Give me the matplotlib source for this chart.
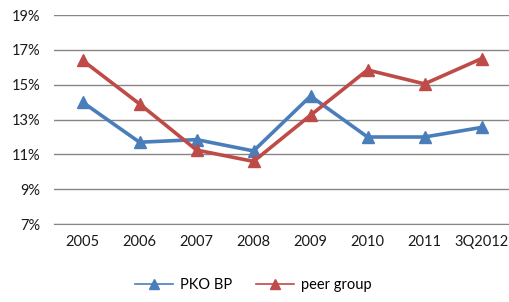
import matplotlib.pyplot as plt
from matplotlib.ticker import FuncFormatter

plt.rcParams['font.family'] = ['Lato', 'DejaVu Sans']

years = ['2005', '2006', '2007', '2008', '2009', '2010', '2011', '3Q2012']
pko_bp = [14.0, 11.7, 11.85, 11.2, 14.35, 12.0, 12.0, 12.55]
peer_group = [16.4, 13.9, 11.25, 10.6, 13.25, 15.85, 15.05, 16.5]

fig = plt.figure(figsize=(5.1, 3.02), dpi=100)
ax = fig.add_axes([0.106, 0.258, 0.894, 0.692])

x = range(len(years))
ax.plot(x, pko_bp, color='#4A7EBB', lw=2.6, marker='^', ms=9, label='PKO BP', zorder=3)
ax.plot(x, peer_group, color='#BE4B48', lw=2.6, marker='^', ms=9, label='peer group', zorder=3)

ax.set_xlim(-0.5, 7.5)
ax.set_ylim(7, 19)
ax.set_yticks(range(7, 20, 2))
ax.yaxis.set_major_formatter(FuncFormatter(lambda v, p: '%d%%' % v))
ax.set_xticks(list(x))
ax.set_xticklabels(years)
ax.grid(axis='y', color='#868686', lw=1)
ax.set_axisbelow(True)
for s in ['top', 'right', 'left']:
    ax.spines[s].set_visible(False)
ax.spines['bottom'].set_color('#868686')
ax.tick_params(length=0, labelsize=10.5, colors='#1a1a1a')
ax.tick_params(axis='x', pad=8)
ax.tick_params(axis='y', pad=10)

leg = fig.legend(loc='lower center', bbox_to_anchor=(0.497, -0.01), ncol=2, frameon=False,
                 fontsize=10.5, handlelength=2.6, handletextpad=0.5, columnspacing=1.6)
for h in leg.legend_handles:
    h.set_linewidth(1.2)
    h.set_markersize(7)

fig.savefig('out.png', dpi=100)
